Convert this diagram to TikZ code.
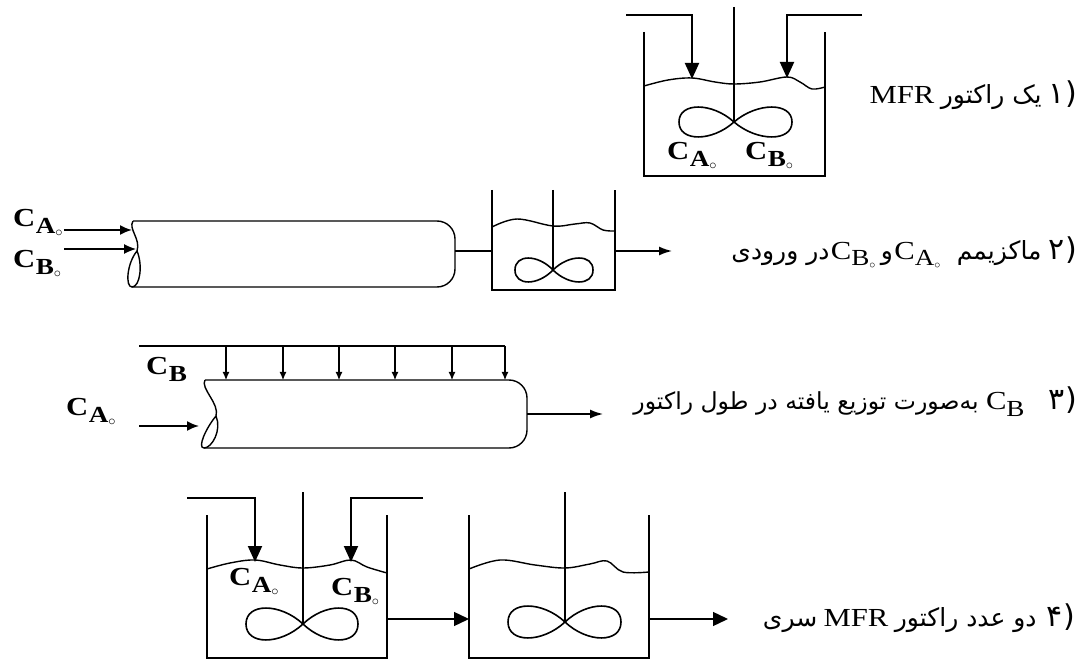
\documentclass[tikz,border=0pt]{standalone}
\usepackage{fontspec}
\setmainfont{Liberation Serif}
\newfontfamily\latw{Liberation Serif}[FakeStretch=1.18]
\newfontfamily\fa[Script=Arabic]{DejaVu Sans}
\TeXXeTstate=1
\usetikzlibrary{arrows.meta}
\newcommand\ringsub{\raisebox{-10pt}{\fontsize{15}{15}\selectfont$\circ$}}
\newcommand\ringtxt{\raisebox{-9pt}{\fontsize{13}{13}\selectfont$\circ$}}
\newcommand\bC[2]{\textbf{C}\kern0.5pt\raisebox{-7pt}{\fontsize{23}{23}\selectfont\textbf{#1}}#2}
\newcommand\rC[2]{C\raisebox{-6pt}{\fontsize{23}{23}\selectfont #1}#2}
\newcommand\drawimp[5]{% x y wleft wright h
  \draw[imp] (#1,#2) .. controls ({#1-0.4*#3},{#2-1.33*#5}) and ({#1-#3},{#2-1.33*#5}) .. ({#1-#3},#2)
    .. controls ({#1-#3},{#2+1.33*#5}) and ({#1-0.4*#3},{#2+1.33*#5}) .. (#1,#2)
    .. controls ({#1+0.4*#4},{#2-1.33*#5}) and ({#1+#4},{#2-1.33*#5}) .. ({#1+#4},#2)
    .. controls ({#1+#4},{#2+1.33*#5}) and ({#1+0.4*#4},{#2+1.33*#5}) .. (#1,#2);}
\newcommand\tubeend[5]{% x0 top bot dx dy
  \draw[wall] (#1,#2) .. controls ({#1-5},{#2+8}) and ({#1+#4+4},{#2+#5-12}) .. ({#1+#4},{#2+#5})
    .. controls ({#1+#4-10},{#2+#5+12}) and ({#1-8},#3) .. ({#1-1},#3)
    .. controls ({#1+7},#3) and ({#1+#4+6},{#2+#5+14}) .. ({#1+#4},{#2+#5});}
\tikzset{
  wall/.style={line width=1.4pt},
  shaft/.style={line width=1.1pt},
  surf/.style={line width=1.4pt},
  imp/.style={line width=1.6pt},
  feed/.style={line width=1.9pt,-{Triangle[length=16pt,width=14pt]}},
  bigflow/.style={line width=1.4pt,-{Triangle[length=15pt,width=14pt]}},
  inflow/.style={line width=1.8pt,-{Latex[length=12pt,width=10pt]}},
  inflowthin/.style={line width=1.2pt,-{Latex[length=12pt,width=10pt]}},
  outflow/.style={line width=1.5pt,-{Latex[length=13pt,width=9pt]}},
  drip/.style={line width=1.1pt,-{Latex[length=8pt,width=7pt]}},
  lat/.style={inner sep=0pt,font=\fontsize{26}{26}\selectfont\latw},
  per/.style={inner sep=0pt,font=\fontsize{25}{25}\selectfont\fa},
  perthree/.style={inner sep=0pt,font=\fontsize{23.5}{23.5}\selectfont\fa},
  num/.style={inner sep=0pt,font=\fontsize{30}{30}\selectfont\fa},
  lbl/.style={inner sep=0pt,font=\fontsize{26}{26}\selectfont\latw},
}
\begin{document}
\begin{tikzpicture}[x=1pt,y=-1pt]
\useasboundingbox (0,0) rectangle (1080,660);

% ---------- Row 1: single MFR ----------
\draw[wall] (644,32) -- (644,176) -- (825,176) -- (825,32);
\draw[shaft] (734,7) -- (734,123);
\coordinate (f1a) at (626,15); \coordinate (f1b) at (692,15); \coordinate (f1c) at (692,79);
\coordinate (f2a) at (862,15); \coordinate (f2b) at (787,15); \coordinate (f2c) at (787,78);
\draw[feed] (f1a) -- (f1b) -- (f1c);
\draw[feed] (f2a) -- (f2b) -- (f2c);
\draw[surf] plot[smooth,tension=0.6] coordinates {(644,86) (668,80) (692,78) (715,82) (734,84) (760,82) (787,77) (800,82) (812,89) (825,87)};
\drawimp{734}{122}{55}{58}{15}
\node[lbl,anchor=base west] (r1ca) at (667,160) {\bC{A}{\ringsub}};
\node[lbl,anchor=base west] (r1cb) at (745,160) {\bC{B}{\ringsub}};
\node[num,anchor=base east] (r1n) at (1077,104) {(۱};
\node[per,anchor=base east] (r1p) at ([xshift=-7pt]r1n.base west) {\beginR یک راکتور\endR};
\node[lat,anchor=base east] (r1m) at ([xshift=-6pt]r1p.base west) {MFR};

% ---------- Row 2: PFR + MFR ----------
\node[lbl,anchor=base west] (r2ca) at (13,227) {\bC{A}{\ringsub}};
\node[lbl,anchor=base west] (r2cb) at (13,268) {\bC{B}{\ringsub}};
\coordinate (p2a) at (132,230); \coordinate (p2b) at (136,249);
\draw[inflow] (r2ca.east |- p2a) ++(1,0) -- (p2a);
\draw[inflowthin] (r2cb.east |- p2b) ++(3,0) -- (p2b);
\draw[wall,rounded corners=18pt] (133,221) -- (455,221) -- (455,287) -- (132,287);
\tubeend{133}{221}{287}{4}{30}
\coordinate (t2R) at (455,251); \coordinate (t2L) at (492,251);
\draw[wall] (t2R) -- (t2L);
\draw[wall] (492,190) -- (492,290) -- (615,290) -- (615,190);
\draw[shaft] (553,190) -- (553,270);
\draw[surf] plot[smooth,tension=0.6] coordinates {(492,227) (517,219) (553,226) (575,224) (590,223) (603,230) (615,231)};
\drawimp{553}{270}{38}{40}{12}
\coordinate (o2a) at (615,251); \coordinate (o2b) at (672,251);
\draw[outflow] (o2a) -- (o2b);
\node[num,anchor=base east] (r2n) at (1077,260) {(۲};
\node[per,anchor=base east] (r2p1) at ([xshift=-7pt]r2n.base west) {\beginR ماکزیمم\endR};
\node[lat,anchor=base east] (r2a) at ([xshift=-16pt]r2p1.base west) {\rC{A}{\ringtxt}};
\node[per,anchor=base east] (r2o) at ([xshift=-1pt]r2a.base west) {\beginR و\endR};
\node[lat,anchor=base east] (r2b) at ([xshift=-5pt]r2o.base west) {\rC{B}{\ringtxt}};
\node[per,anchor=base east] (r2p2) at ([xshift=-1pt]r2b.base west) {\beginR در ورودی\endR};

% ---------- Row 3: PFR with distributed B ----------
\draw[wall] (139,346) -- (505,346);
\foreach \xx in {226,283,339,395,452,505} {
  \coordinate (d\xx a) at (\xx,346); \coordinate (d\xx b) at (\xx,380);
  \draw[drip] (d\xx a) -- (d\xx b);
}
\node[lbl,anchor=base west] (r3cb) at (146,375) {\bC{B}{}};
\node[lbl,anchor=base west] (r3ca) at (66,416) {\bC{A}{\ringsub}};
\draw[wall,rounded corners=18pt] (205,380) -- (527,380) -- (527,448) -- (204,448);
\tubeend{205}{380}{448}{11}{36}
\coordinate (i3a) at (139,426); \coordinate (i3b) at (199,426);
\draw[inflow] (i3a) -- (i3b);
\coordinate (o3a) at (527,414); \coordinate (o3b) at (603,414);
\draw[outflow] (o3a) -- (o3b);
\node[num,anchor=base east] (r3n) at (1077,410) {(۳};
\node[lat,anchor=base east] (r3c) at ([xshift=-24pt]r3n.base west) {\rC{B}{}};
\node[perthree,anchor=base east] (r3p) at ([xshift=-7pt]r3c.base west) {\beginR به‌صورت توزیع یافته در طول راکتور\endR};

% ---------- Row 4: two MFR in series ----------
\coordinate (g1a) at (187,498); \coordinate (g1b) at (255,498); \coordinate (g1c) at (255,562);
\coordinate (g2a) at (423,498); \coordinate (g2b) at (351,498); \coordinate (g2c) at (351,562);
\draw[feed] (g1a) -- (g1b) -- (g1c);
\draw[feed] (g2a) -- (g2b) -- (g2c);
\draw[wall] (207,515) -- (207,658) -- (387,658) -- (387,515);
\draw[shaft] (303,492) -- (303,625);
\draw[surf] plot[smooth,tension=0.6] coordinates {(207,569) (230,563) (255,560) (280,565) (303,568) (330,565) (351,560) (367,567) (387,573)};
\drawimp{303}{624}{57}{55}{16}
\node[lbl,anchor=base west] (r4ca) at (229,585) {\bC{A}{\ringsub}};
\node[lbl,anchor=base west] (r4cb) at (331,595) {\bC{B}{\ringsub}};
\coordinate (m4a) at (387,619); \coordinate (m4b) at (469,619);
\draw[bigflow] (m4a) -- (m4b);
\draw[wall] (469,515) -- (469,658) -- (649,658) -- (649,515);
\draw[shaft] (565,492) -- (565,623);
\draw[surf] plot[smooth,tension=0.6] coordinates {(469,569) (500,560) (535,565) (565,568) (590,564) (607,561) (623,572) (649,572)};
\drawimp{565}{622}{57}{56}{16}
\coordinate (o4a) at (649,619); \coordinate (o4b) at (728,619);
\draw[bigflow] (o4a) -- (o4b);
\node[num,anchor=base east] (r4n) at (1075,626) {(۴};
\node[per,anchor=base east] (r4p1) at ([xshift=-10pt]r4n.base west) {\beginR دو عدد راکتور\endR};
\node[lat,anchor=base east] (r4m) at ([xshift=-6pt]r4p1.base west) {MFR};
\node[per,anchor=base east] (r4p2) at ([xshift=-6pt]r4m.base west) {\beginR سری\endR};
\end{tikzpicture}
\end{document}
